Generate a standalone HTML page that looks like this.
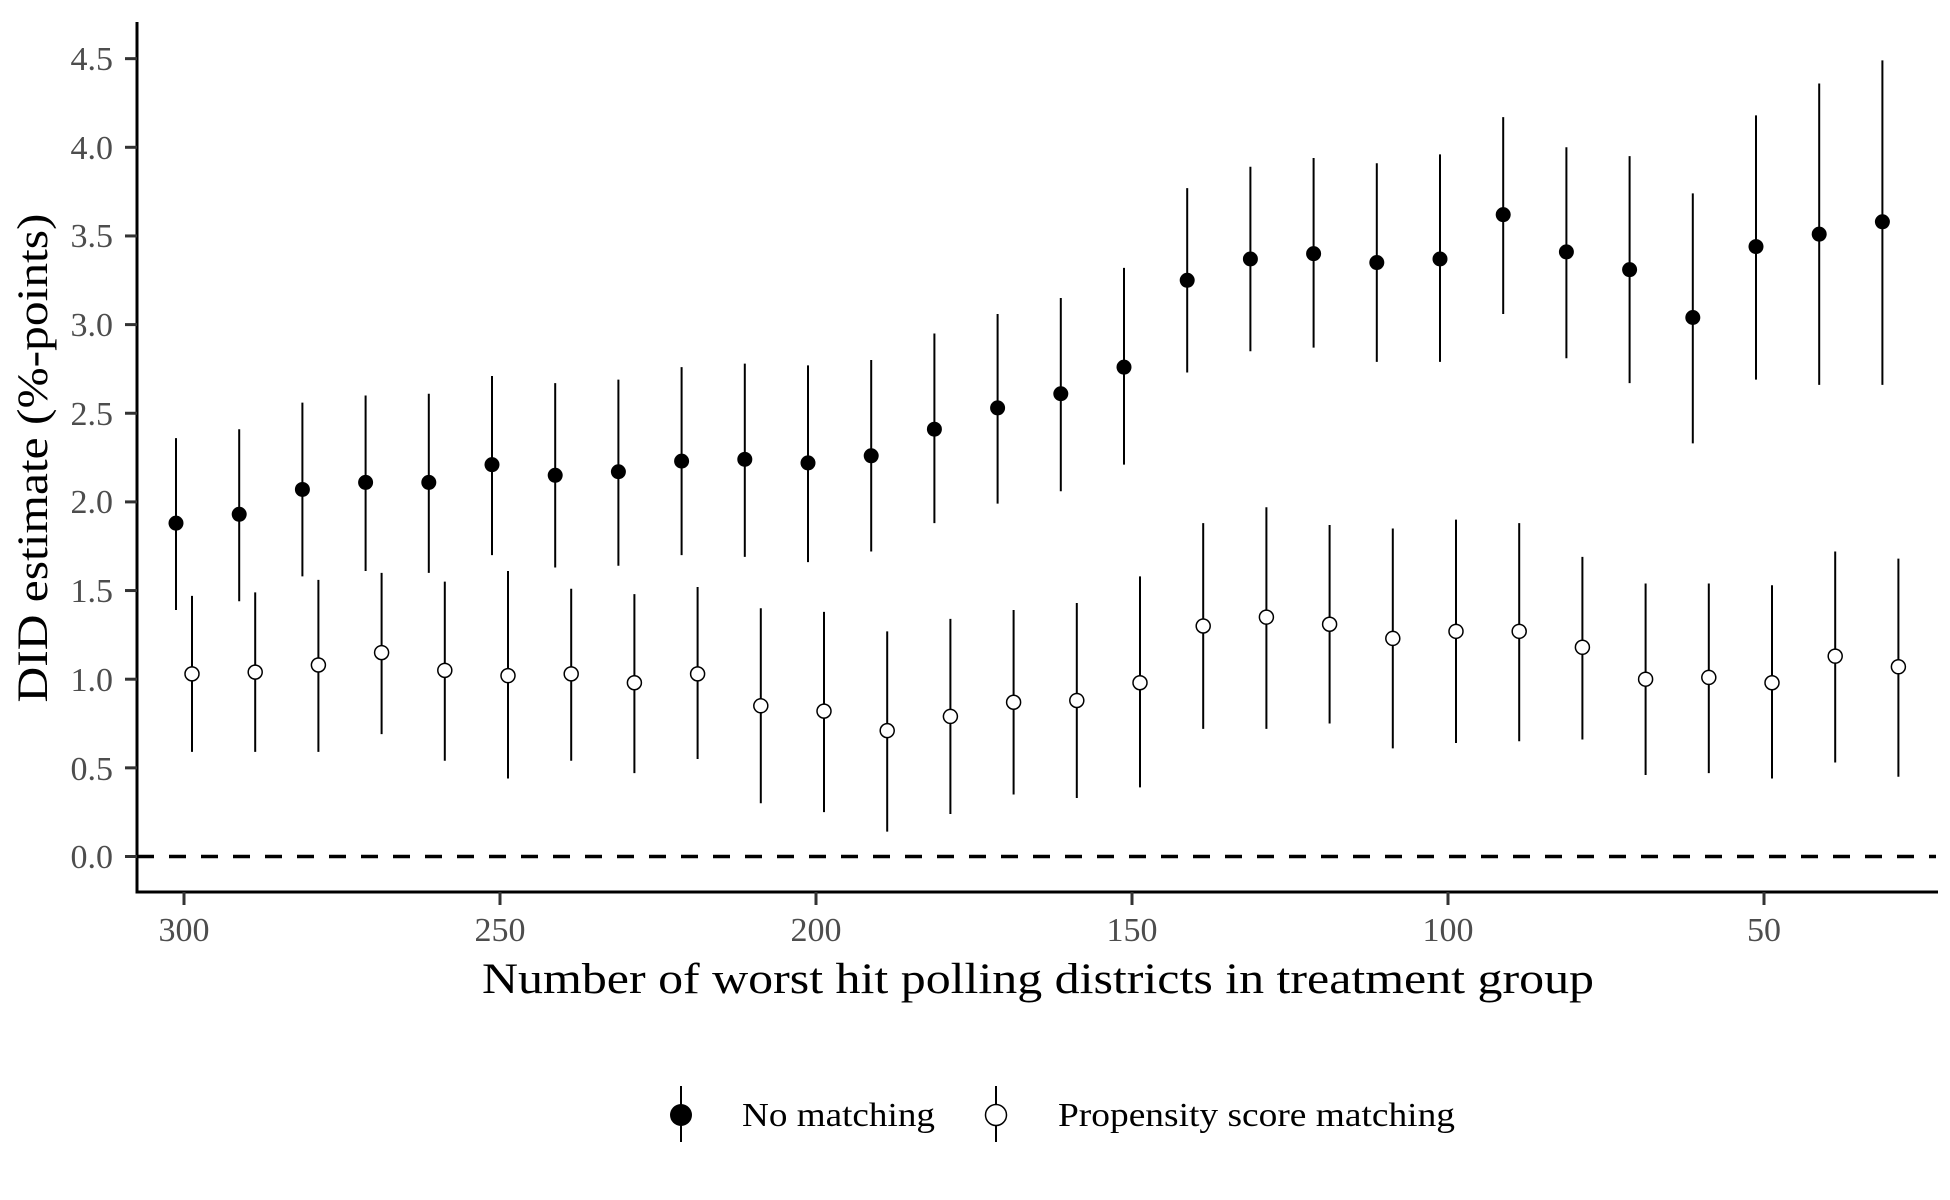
<!DOCTYPE html>
<html><head><meta charset="utf-8"><style>html,body{margin:0;padding:0;background:#fff}svg{display:block}</style></head>
<body>
<svg id="s" width="1950" height="1200" xmlns="http://www.w3.org/2000/svg" font-family="Liberation Serif, serif">
<rect width="1950" height="1200" fill="#fff"/>
<line x1="137" y1="856.5" x2="1936" y2="856.5" stroke="#000" stroke-width="3.5" stroke-dasharray="17,15"/>
<g id="pts"></g>
<line x1="137" y1="22" x2="137" y2="893" stroke="#000" stroke-width="3"/>
<line x1="135.5" y1="892" x2="1938" y2="892" stroke="#000" stroke-width="3"/>
<g id="ticks" stroke="#333" stroke-width="3"></g>
<g font-size="34" fill="#4d4d4d" text-anchor="end" id="ylab">
<text x="113" y="70">4.5</text><text x="113" y="159">4.0</text><text x="113" y="247">3.5</text>
<text x="113" y="336">3.0</text><text x="113" y="425">2.5</text><text x="113" y="513">2.0</text>
<text x="113" y="602">1.5</text><text x="113" y="691">1.0</text><text x="113" y="780">0.5</text>
<text x="113" y="868">0.0</text></g>
<g font-size="34" fill="#4d4d4d" text-anchor="middle">
<text x="184" y="941">300</text><text x="500" y="941">250</text><text x="816" y="941">200</text>
<text x="1132" y="941">150</text><text x="1448" y="941">100</text><text x="1764" y="941">50</text></g>
<text x="1038" y="993" font-size="43" text-anchor="middle" textLength="1112" lengthAdjust="spacingAndGlyphs">Number of worst hit polling districts in treatment group</text>
<text transform="translate(47,458) rotate(-90)" font-size="43" text-anchor="middle" textLength="489" lengthAdjust="spacingAndGlyphs">DID estimate (%-points)</text>
<line x1="681" y1="1086" x2="681" y2="1142" stroke="#000" stroke-width="2"/>
<circle cx="681" cy="1115" r="11" fill="#000"/>
<text x="742" y="1126" font-size="34" textLength="193" lengthAdjust="spacingAndGlyphs">No matching</text>
<line x1="996" y1="1086" x2="996" y2="1142" stroke="#000" stroke-width="2"/>
<circle cx="996" cy="1115" r="10.5" fill="#fff" stroke="#000" stroke-width="1.5"/>
<text x="1058" y="1126" font-size="34" textLength="397" lengthAdjust="spacingAndGlyphs">Propensity score matching</text>
</svg>
<script>
var NS="http://www.w3.org/2000/svg";
function Y(v){return 856.5-v*177.3}
function X(v){return 184+(300-v)*6.32}
var B=[[1.88,1.39,2.36],[1.93,1.44,2.41],[2.07,1.58,2.56],[2.11,1.61,2.60],[2.11,1.60,2.61],[2.21,1.70,2.71],[2.15,1.63,2.67],[2.17,1.64,2.69],[2.23,1.70,2.76],[2.24,1.69,2.78],[2.22,1.66,2.77],[2.26,1.72,2.80],[2.41,1.88,2.95],[2.53,1.99,3.06],[2.61,2.06,3.15],[2.76,2.21,3.32],[3.25,2.73,3.77],[3.37,2.85,3.89],[3.40,2.87,3.94],[3.35,2.79,3.91],[3.37,2.79,3.96],[3.62,3.06,4.17],[3.41,2.81,4.00],[3.31,2.67,3.95],[3.04,2.33,3.74],[3.44,2.69,4.18],[3.51,2.66,4.36],[3.58,2.66,4.49]];
var W=[[1.03,0.59,1.47],[1.04,0.59,1.49],[1.08,0.59,1.56],[1.15,0.69,1.60],[1.05,0.54,1.55],[1.02,0.44,1.61],[1.03,0.54,1.51],[0.98,0.47,1.48],[1.03,0.55,1.52],[0.85,0.30,1.40],[0.82,0.25,1.38],[0.71,0.14,1.27],[0.79,0.24,1.34],[0.87,0.35,1.39],[0.88,0.33,1.43],[0.98,0.39,1.58],[1.30,0.72,1.88],[1.35,0.72,1.97],[1.31,0.75,1.87],[1.23,0.61,1.85],[1.27,0.64,1.90],[1.27,0.65,1.88],[1.18,0.66,1.69],[1.00,0.46,1.54],[1.01,0.47,1.54],[0.98,0.44,1.53],[1.13,0.53,1.72],[1.07,0.45,1.68]];
var g=document.getElementById("pts");
function el(n,a){var e=document.createElementNS(NS,n);for(var k in a)e.setAttribute(k,a[k]);g.appendChild(e);}
for(var i=0;i<28;i++){var v=300-10*i;
 var xb=X(v)-8,xw=X(v)+8;
 el("line",{x1:xb,x2:xb,y1:Y(B[i][1]),y2:Y(B[i][2]),stroke:"#000","stroke-width":2});
 el("circle",{cx:xb,cy:Y(B[i][0]),r:7.5,fill:"#000"});
 el("line",{x1:xw,x2:xw,y1:Y(W[i][1]),y2:Y(W[i][2]),stroke:"#000","stroke-width":2});
 el("circle",{cx:xw,cy:Y(W[i][0]),r:7,fill:"#fff",stroke:"#000","stroke-width":1.5});
}
var t=document.getElementById("ticks");
function tl(a){var e=document.createElementNS(NS,"line");for(var k in a)e.setAttribute(k,a[k]);t.appendChild(e);}
for(var j=0;j<=9;j++){var y=Y(j*0.5);tl({x1:125,x2:137,y1:y,y2:y});}
for(var j=0;j<6;j++){var x=184+j*316;tl({x1:x,x2:x,y1:892,y2:905});}
</script>
</body></html>
